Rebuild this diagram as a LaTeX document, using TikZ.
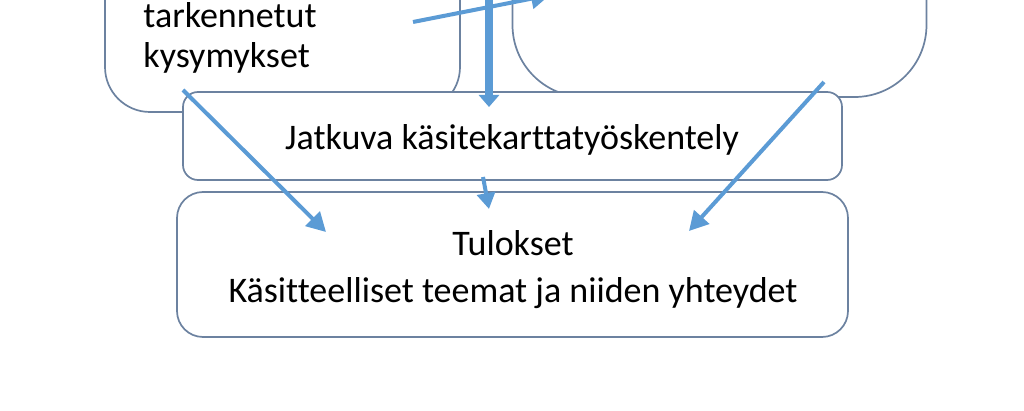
\documentclass[tikz,border=0pt]{standalone}
\usepackage{fontspec}
\setmainfont{Carlito}[Ligatures=NoCommon]
\usetikzlibrary{arrows.meta}
\definecolor{edgec}{RGB}{108,130,160}
\definecolor{arrc}{RGB}{91,155,213}
\begin{document}
\begin{tikzpicture}[x=0.5pt,y=-0.5pt,
  box/.style={draw=edgec,line width=0.85pt,fill=white,inner sep=0pt},
  lbl/.style={font=\fontsize{18pt}{22pt}\selectfont,text=black,inner sep=0pt,anchor=base},
  conn/.style={draw=arrc,line width=2pt,-{Triangle[length=9.5pt,width=10pt]}},
  thick conn/.style={draw=arrc,line width=4pt,-{Triangle[length=6pt,width=10pt]}}]
\useasboundingbox (0,0) rectangle (1024,411);
\clip (0,0) rectangle (1024,411);
% top boxes (cut off)
\node[box,rounded corners=22.5pt,minimum width=177.5pt,minimum height=96pt] (left) at (282.5,16) {};
\node[box,rounded corners=36pt,minimum width=207pt,minimum height=98.5pt] (right) at (719.5,-1.5) {};
\node[lbl,anchor=base west] (t1) at (143,28) {tarkennetut};
\node[lbl,anchor=base west] (t2) at (143,68) {kysymykset};
% arrow from left box to right box
\coordinate (a1s) at (413,22);
\coordinate (a1e) at (550,-5);
\draw[conn] (a1s) -- (a1e);
% middle box
\node[box,rounded corners=7.5pt,minimum width=329.5pt,minimum height=44pt] (jat) at (512.5,136) {};
\node[lbl] (jt) at (512,150) {Jatkuva käsitekarttatyöskentely};
% bottom box
\node[box,rounded corners=13pt,minimum width=335.5pt,minimum height=72.5pt] (tul) at (512.5,264.5) {};
\node[lbl] (tt1) at (513,256) {Tulokset};
\node[lbl] (tt2) at (513,303) {Käsitteelliset teemat ja niiden yhteydet};
% thick vertical arrow
\coordinate (a2s) at (489,-5);
\coordinate (a2e) at (489,107);
\draw[thick conn] (a2s) -- (a2e);
% diagonal arrows
\coordinate (a3s) at (183,90);
\coordinate (a3e) at (326,232);
\draw[conn] (a3s) -- (a3e);
\coordinate (a4s) at (824,82);
\coordinate (a4e) at (689,231);
\draw[conn] (a4s) -- (a4e);
% small arrow
\coordinate (a5s) at (483,177);
\coordinate (a5e) at (489,209);
\draw[conn,-{Triangle[length=8pt,width=9pt]}] (a5s) -- (a5e);
\end{tikzpicture}
\end{document}
